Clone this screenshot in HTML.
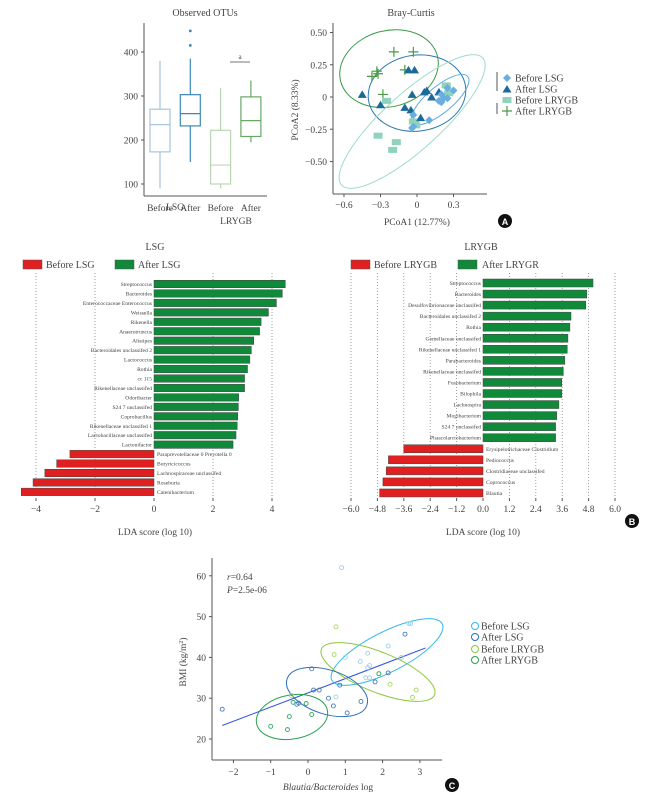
<!DOCTYPE html>
<html><head><meta charset="utf-8">
<style>
body{margin:0;background:#fff;}
svg{display:block;font-family:"Liberation Serif",serif;}
text{fill:#444;}
</style></head>
<body>
<svg id="fig" width="660" height="806" viewBox="0 0 660 806">
<!-- Panel A left -->
<g id="box">
<text x="205" y="16" font-size="10" text-anchor="middle">Observed OTUs</text>
<line x1="144" y1="23" x2="144" y2="196" stroke="#555" stroke-width="1"/>
<line x1="144" y1="196" x2="267" y2="196" stroke="#555" stroke-width="1"/>
<line x1="230" y1="62" x2="250" y2="62" stroke="#777"/>
<text x="240" y="59" font-size="7" text-anchor="middle">a</text>
<text x="175" y="210" font-size="9.5" text-anchor="middle">LSG</text>
<text x="236" y="224" font-size="9.5" text-anchor="middle">LRYGB</text>
</g>
<!-- Panel A right -->
<g id="pcoa">
<text x="411" y="16" font-size="10" text-anchor="middle">Bray-Curtis</text>
<line x1="333" y1="23" x2="333" y2="194" stroke="#555"/>
<line x1="333" y1="194" x2="487" y2="194" stroke="#555"/>
<text x="0" y="0" font-size="9.5" text-anchor="middle" transform="translate(298,110) rotate(-90)">PCoA2 (8.33%)</text>
<text x="417" y="225" font-size="9.5" text-anchor="middle">PCoA1 (12.77%)</text>
<circle cx="505" cy="221" r="7" fill="#111"/>
<text x="505" y="225" font-size="9" font-weight="bold" text-anchor="middle" style="fill:#fff;font-family:'Liberation Sans',sans-serif">A</text>
</g>
<!-- Panel B -->
<g id="lsg">
<text x="155" y="250" font-size="10" text-anchor="middle">LSG</text>
<rect x="23" y="260" width="19" height="9" fill="#e02020" stroke="#555" stroke-width="0.5"/>
<text x="46" y="268" font-size="10">Before LSG</text>
<rect x="115" y="260" width="19" height="9" fill="#108a3a" stroke="#555" stroke-width="0.5"/>
<text x="138" y="268" font-size="10">After LSG</text>
<text x="155" y="535" font-size="9.5" text-anchor="middle">LDA score (log 10)</text>
</g>
<g id="lry">
<text x="481" y="250" font-size="10" text-anchor="middle">LRYGB</text>
<rect x="351" y="260" width="19" height="9" fill="#e02020" stroke="#555" stroke-width="0.5"/>
<text x="374" y="268" font-size="10">Before LRYGB</text>
<rect x="458" y="260" width="19" height="9" fill="#108a3a" stroke="#555" stroke-width="0.5"/>
<text x="482" y="268" font-size="10">After LRYGR</text>
<text x="483" y="535" font-size="9.5" text-anchor="middle">LDA score (log 10)</text>
<circle cx="632" cy="521" r="7" fill="#111"/>
<text x="632" y="525" font-size="9" font-weight="bold" text-anchor="middle" style="fill:#fff;font-family:'Liberation Sans',sans-serif">B</text>
</g>
<!-- Panel C -->
<g id="sc">
<line x1="212" y1="558" x2="212" y2="760" stroke="#555"/>
<line x1="212" y1="760" x2="442" y2="760" stroke="#555"/>
<text x="227" y="580" font-size="9.5"><tspan font-style="italic">r</tspan>=0.64</text>
<text x="227" y="593" font-size="9.5"><tspan font-style="italic">P</tspan>=2.5e-06</text>
<text x="0" y="0" font-size="9.5" text-anchor="middle" transform="translate(186,662) rotate(-90)">BMI (kg/m<tspan font-size="6" dy="-3">2</tspan><tspan dy="3">)</tspan></text>
<text x="328" y="790" font-size="9.5" text-anchor="middle"><tspan font-style="italic">Blautia/Bacteroides</tspan> log</text>
<circle cx="452" cy="785" r="7" fill="#111"/>
<text x="452" y="789" font-size="9" font-weight="bold" text-anchor="middle" style="fill:#fff;font-family:'Liberation Sans',sans-serif">C</text>
</g>
</svg>
<script>
// ---------- Boxplot data ----------
const boxGroups = ["Before","After","Before","After"];
const boxMin = [90,150,90,195];
const boxQ1 = [173,232,100,208];
const boxMed = [235,260,143,244];
const boxQ3 = [270,303,222,298];
const boxMax = [380,385,318,335];
const boxOutliers = [[],[415,448],[],[]];
const boxColors = ["#a9c3e0","#3a88b6","#b9d8b2","#66a866"];
const boxTicks = [100,200,300,400];
// ---------- PCoA data ----------
const pcoaXTicks = [-0.6,-0.3,0,0.3];
const pcoaYTicks = [0.5,0.25,0,-0.25,-0.5];
const pcoaYTickLabels = ["0.50","0.25","0","\u22120.25","\u22120.50"];
const beforeLsgX = [0.25,0.3,0.2,0.22,0.25,0.18,0.2,-0.03,0.1,-0.03,-0.04];
const beforeLsgY = [0.07,0.05,0.02,-0.01,-0.01,-0.03,-0.04,-0.14,-0.18,-0.23,-0.24];
const afterLsgX = [-0.45,-0.3,-0.07,-0.02,-0.04,0.06,0.08,0.12,0.18,-0.1,-0.05,0.03];
const afterLsgY = [0.02,-0.06,0.21,0.21,0.02,0.04,0.05,0.0,0.04,-0.08,-0.1,-0.16];
const beforeLrygbX = [0.24,0.26,-0.25,-0.32,-0.17,-0.2,-0.03,-0.01,-0.02];
const beforeLrygbY = [0.09,0.03,-0.03,-0.3,-0.35,-0.41,-0.19,-0.22,-0.19];
const afterLrygbX = [-0.19,-0.03,-0.33,-0.32,-0.37,-0.1,-0.28];
const afterLrygbY = [0.35,0.35,0.2,0.18,0.16,0.21,0.02];
// ---------- LDA LSG ----------
const lsgNames = ["Streptococcus","Bacteroides","Enterococcaceae Enterococcus","Weissella","Rikenella","Anaerotruncus","Alistipes","Bacteroidales unclassifed 2","Lactococcus","Rothia","cc 115","Rikenellaceae unclassifed","Odoribacter","S24 7 unclassifed","Coprobacillus","Rikenellaceae unclassifed 1","Lactobacillaceae unclassifed","Lactonifactor","Paraprevotellaceae 0 Prevotella 0","Butyricicoccus","Lachnospiraceae unclassifed","Roseburia","Catenibacterium"];
const lsgScores = [4.45,4.35,4.15,3.88,3.63,3.58,3.38,3.3,3.25,3.17,3.07,3.07,2.87,2.86,2.84,2.82,2.78,2.68,-2.85,-3.3,-3.7,-4.1,-4.5];
const lsgTicks = [-4,-2,0,2,4];
// ---------- LDA LRYGB ----------
const lryNames = ["Streptococcus","Bacteroides","Desulfovibrionaceae unclassifed","Bacteroidales unclassifed 2","Rothia","Gemellaceae unclassifed","Rikenellaceae unclassifed 1","Parabacteroides","Rikenellaceae unclassifed","Fusobacterium","Bilophila","Lachnospira","Mogibacterium","S24 7 unclassifed","Phascolarctobacterium","Erysipelotrichaceae Clostridium","Pediococcus","Clostridiaceae unclassifed","Coprococcus","Blautia"];
const lryScores = [5.0,4.72,4.67,4.0,3.95,3.86,3.83,3.72,3.65,3.58,3.58,3.45,3.35,3.3,3.3,-3.6,-4.3,-4.4,-4.55,-4.7];
const lryTicks = [-6,-4.8,-3.6,-2.4,-1.2,0,1.2,2.4,3.6,4.8,6];
// ---------- Scatter ----------
const scXTicks = [-2,-1,0,1,2,3];
const scYTicks = [20,30,40,50,60];
const sBeforeLsgX = [0.9,2.7,2.75,2.15,1.0,1.4,1.6,1.65,1.6,1.55,1.65,2.5,0.75];
const sBeforeLsgY = [62,48.3,48.3,42.8,40,39,41,38,37.5,35,35,40,30.3];
const sAfterLsgX = [-2.3,0.1,2.6,0.85,1.8,2.15,0.15,0.3,-0.3,-0.25,0.55,0.68,1.42,1.05];
const sAfterLsgY = [27.3,37.2,45.7,33.2,34,36.2,32,32,28.5,28.8,30,28.1,29.2,26.4];
const sBeforeLrygbX = [0.75,0.7,1.9,2.2,2.9,2.8,-0.45];
const sBeforeLrygbY = [47.5,40.7,36,33.4,32,30.2,30.7];
const sAfterLrygbX = [-1.0,-0.55,-0.5,0.1,-0.4,-0.05,1.9];
const sAfterLrygbY = [23.1,22.3,25.5,26,29,28.7,36];
const regX = [-2.3,3.15];
const regY = [23.3,42.3];

const NS="http://www.w3.org/2000/svg";
function mk(parent,tag,attrs,txt){const e=document.createElementNS(NS,tag);for(const k in attrs)e.setAttribute(k,attrs[k]);if(txt!==undefined)e.textContent=txt;parent.appendChild(e);return e;}

// ---- boxplot ----
const gBox=document.getElementById('box');
const byV=v=>184-(v-100)*0.44;
const bx=i=>160+i*30.3;
boxTicks.forEach(t=>{
  const l=mk(gBox,'line',{x1:141,x2:144,y1:byV(t),y2:byV(t),stroke:'#555'});
  
  
  const tx=mk(gBox,'text',{x:138,y:byV(t)+3.5,'font-size':9.5,'text-anchor':'end'},t);
  
  
});
boxGroups.forEach((g,i)=>{
  const c=boxColors[i],x=bx(i);
  const grp=mk(gBox,'g',{});
  
  
  mk(grp,'line',{x1:x,x2:x,y1:byV(boxMax[i]),y2:byV(boxQ3[i]),stroke:c,'stroke-width':1.2});
  mk(grp,'line',{x1:x,x2:x,y1:byV(boxQ1[i]),y2:byV(boxMin[i]),stroke:c,'stroke-width':1.2});
  mk(grp,'rect',{x:x-10,y:byV(boxQ3[i]),width:20,height:byV(boxQ1[i])-byV(boxQ3[i]),fill:'#fff',stroke:c,'stroke-width':1.2});
  mk(grp,'line',{x1:x-10,x2:x+10,y1:byV(boxMed[i]),y2:byV(boxMed[i]),stroke:c,'stroke-width':1.2});
  boxOutliers[i].forEach(o=>mk(grp,'circle',{cx:x,cy:byV(o),r:1.4,fill:c}));
  const t=mk(gBox,'text',{x:x,y:211,'font-size':9.5,'text-anchor':'middle'},g);
  
  
});

// ---- PCoA ----
const gP=document.getElementById('pcoa');
const px=v=>417+v*121.7, py=v=>97-v*129;
pcoaXTicks.forEach(t=>{
  mk(gP,'line',{x1:px(t),x2:px(t),y1:194,y2:197,stroke:'#555'});
  const tx=mk(gP,'text',{x:px(t),y:208,'font-size':9.5,'text-anchor':'middle'},t===0?'0':String(t).replace('-','\u2212'));
  
  
});
pcoaYTicks.forEach((t,i)=>{
  mk(gP,'line',{x1:330,x2:333,y1:py(t),y2:py(t),stroke:'#555'});
  const tx=mk(gP,'text',{x:327,y:py(t)+3.5,'font-size':9.5,'text-anchor':'end'},pcoaYTickLabels[i]);
  
  
});
function ell(parent,cx,cy,rx,ry,rot,col,name){const e=mk(parent,'ellipse',{cx,cy,rx,ry,transform:`rotate(${rot} ${cx} ${cy})`,fill:'none',stroke:col,'stroke-width':1});}
ell(gP,px(-0.23),py(0.22),50,38,-15,'#3a9a4a','after-lrygb-ellipse');
ell(gP,px(0),py(0.03),49,38,-8,'#2a78b0','after-lsg-ellipse');
ell(gP,px(0.19),py(-0.02),36,13,-40,'#5aaae0','before-lsg-ellipse');
ell(gP,px(-0.04),py(-0.19),95,28,-42,'#9adcc8','before-lrygb-ellipse');
function diamond(g,x,y,c){mk(g,'polygon',{points:`${x},${y-4} ${x+4},${y} ${x},${y+4} ${x-4},${y}`,fill:c});}
function tri(g,x,y,c){mk(g,'polygon',{points:`${x},${y-4} ${x+4.5},${y+3.5} ${x-4.5},${y+3.5}`,fill:c});}
function sq(g,x,y,c){mk(g,'rect',{x:x-4.5,y:y-3,width:9,height:6,fill:c});}
function plus(g,x,y,c){mk(g,'path',{d:`M${x-5},${y}H${x+5}M${x},${y-5}V${y+5}`,stroke:c,'stroke-width':1.2});}
const pts=[[afterLrygbX,afterLrygbY,plus,'#4a9a4a','after-lrygb-points'],[beforeLrygbX,beforeLrygbY,sq,'#8fd3bc','before-lrygb-points'],[afterLsgX,afterLsgY,tri,'#1a6a9a','after-lsg-points'],[beforeLsgX,beforeLsgY,diamond,'#6aaee0','before-lsg-points']];
pts.forEach(([X,Y,f,c,n])=>{const g=mk(gP,'g',{});X.forEach((v,i)=>f(g,px(v),py(Y[i]),c));});
// legend
const lg=mk(gP,'g',{});


mk(lg,'line',{x1:497,x2:497,y1:72,y2:91,stroke:'#555'});
mk(lg,'line',{x1:497,x2:497,y1:103,y2:114,stroke:'#555'});
const legItems=[['Before LSG',diamond,'#6aaee0',78],['After LSG',tri,'#1a6a9a',89],['Before LRYGB',sq,'#8fd3bc',100],['After LRYGB',plus,'#4a9a4a',111]];
legItems.forEach(([t,f,c,y])=>{f(lg,507,y,c);const tx=mk(lg,'text',{x:515,y:y+3.5,'font-size':10},t);});

// ---- LDA charts ----
function lda(id,names,scores,ticks,x0,unit,y0,step,bh,tickFmt,gridTop){
  const g=document.getElementById(id);
  const x=v=>x0+v*unit;
  ticks.forEach(t=>{
    if(t!==0){const gl=mk(g,'line',{x1:x(t),x2:x(t),y1:gridTop,y2:498,stroke:'#888','stroke-dasharray':'1,2','stroke-width':0.8});}
    mk(g,'line',{x1:x(t),x2:x(t),y1:498,y2:501,stroke:'#555'});
    const tx=mk(g,'text',{x:x(t),y:512,'font-size':9.5,'text-anchor':'middle'},tickFmt(t));
    
    
  });
  names.forEach((n,i)=>{
    const v=scores[i],cy=y0+i*step;
    const r=mk(g,'rect',{x:Math.min(x(0),x(v)),y:cy-bh/2,width:Math.abs(x(v)-x(0)),height:bh,fill:v>0?'#108a3a':'#e02020',stroke:'#444','stroke-width':0.5});
    
    
    const t=mk(g,'text',{x:v>0?x(0)-2:x(0)+3,y:cy+2,'font-size':5.6,'text-anchor':v>0?'end':'start'},n);
    
    
  });
}
lda('lsg',lsgNames,lsgScores,lsgTicks,154,29.5,284,9.45,7.5,t=>String(t).replace('-','\u2212'),273);
lda('lry',lryNames,lryScores,lryTicks,483,22,283,11.05,8,t=>t.toFixed(1).replace('-','\u2212'),273);

// ---- scatter ----
const gS=document.getElementById('sc');
const sx=v=>308+v*37.3, sy=v=>739-(v-20)*4.08;
scXTicks.forEach(t=>{
  mk(gS,'line',{x1:sx(t),x2:sx(t),y1:760,y2:763,stroke:'#555'});
  const tx=mk(gS,'text',{x:sx(t),y:775,'font-size':9.5,'text-anchor':'middle'},String(t).replace('-','\u2212'));
  
  
});
scYTicks.forEach(t=>{
  mk(gS,'line',{x1:209,x2:212,y1:sy(t),y2:sy(t),stroke:'#555'});
  const tx=mk(gS,'text',{x:206,y:sy(t)+3.5,'font-size':9.5,'text-anchor':'end'},t);
  
  
});
const rl=mk(gS,'line',{x1:sx(regX[0]),y1:sy(regY[0]),x2:sx(regX[1]),y2:sy(regY[1]),stroke:'#3a5ae0','stroke-width':1.1});


ell(gS,387,652,62,20,-27,'#30b8ec','before-lsg-ellipse');
ell(gS,378,672,61,20,22,'#8cc83c','before-lrygb-ellipse');
ell(gS,327,692,42,22,18,'#2a70b8','after-lsg-ellipse');
ell(gS,292,717,36,22,-10,'#2aa050','after-lrygb-ellipse');
const sPts=[[sBeforeLsgX,sBeforeLsgY,'#9ed0ea','before-lsg-points'],[sAfterLsgX,sAfterLsgY,'#4a7ab8','after-lsg-points'],[sBeforeLrygbX,sBeforeLrygbY,'#a8d860','before-lrygb-points'],[sAfterLrygbX,sAfterLrygbY,'#30a860','after-lrygb-points']];
sPts.forEach(([X,Y,c,n])=>{const g=mk(gS,'g',{});X.forEach((v,i)=>mk(g,'circle',{cx:sx(v),cy:sy(Y[i]),r:2,fill:'none',stroke:c,'stroke-width':0.9}));});
const sl=mk(gS,'g',{});


[['Before LSG','#30b8ec',626],['After LSG','#2a70b8',637],['Before LRYGB','#8cc83c',649],['After LRYGB','#2aa050',660]].forEach(([t,c,y])=>{
  mk(sl,'circle',{cx:475,cy:y,r:3.5,fill:'none',stroke:c,'stroke-width':1});
  const tx=mk(sl,'text',{x:481,y:y+3.5,'font-size':10},t);
  
  
});
</script>
</body></html>
